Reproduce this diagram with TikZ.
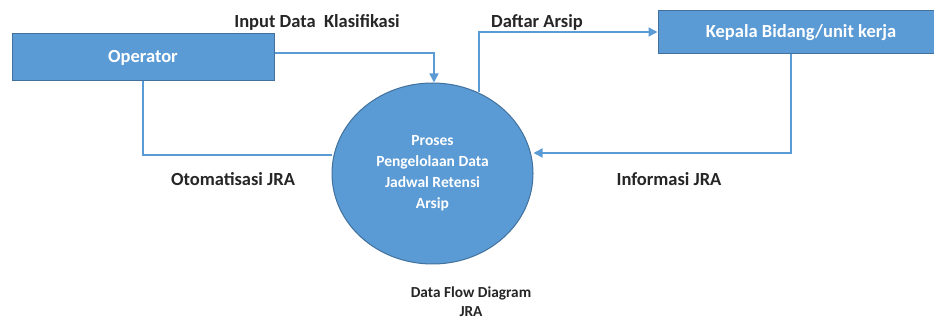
\documentclass[tikz,border=0pt]{standalone}
\usepackage{fontspec}
\setmainfont{Carlito}
\usetikzlibrary{shapes.geometric,arrows.meta}
\definecolor{fillblue}{HTML}{5B9BD5}
\definecolor{edgeblue}{HTML}{41719C}
\definecolor{lineblue}{HTML}{5B9BD5}
\tikzset{
  entity/.style={draw=edgeblue,line width=1pt,fill=fillblue,text=white,font=\bfseries\fontsize{18.5}{22}\selectfont,inner sep=0pt},
  proc/.style={ellipse,draw=edgeblue,line width=1pt,fill=fillblue,text=white,align=center,inner sep=0pt,font=\bfseries\fontsize{15.5}{21}\selectfont},
  flow/.style={draw=lineblue,line width=1.6pt},
  flowarrow/.style={flow,-{Triangle[length=9pt,width=9pt]}},
  lbl/.style={font=\bfseries\fontsize{18.5}{22}\selectfont,text=black!85,inner sep=0pt},
}
\begin{document}
\begin{tikzpicture}[x=1pt,y=-1pt]
\clip (0,0) rectangle (934,320);
\fill[white] (0,0) rectangle (934,320);
\node[entity,minimum width=262pt,minimum height=47pt] (op) at (143,57.5) {Operator};
\node[entity,minimum width=286pt,minimum height=43pt] (kb) at (801,32.5) {Kepala Bidang/unit kerja};
\node[proc,minimum width=201pt,minimum height=181pt] (pr) at (432.5,173.5) {Proses\\Pengelolaan Data\\Jadwal Retensi\\Arsip};
\node[align=center,font=\bfseries\fontsize{15.3}{19}\selectfont,text=black!85,inner sep=0pt] (cap) at (471,302) {Data Flow Diagram\\JRA};
% flows
\coordinate (c1) at (434,53);
\draw[flowarrow] (op.east |- c1) -- (c1) -- (pr.north -| c1);
\coordinate (c2) at (143,155);
\draw[flow] (op.south -| c2) -- (c2) -- (pr.west |- c2);
\coordinate (c3) at (479,32);
\draw[flowarrow] (479,92) -- (c3) -- (kb.west |- c3);
\coordinate (c4) at (791,153);
\draw[flowarrow] (kb.south -| c4) -- (c4) -- (pr.east |- c4);
% labels
\node[lbl] (l1) at (317,22) {Input Data\ \ Klasifikasi};
\node[lbl] (l2) at (233,179) {Otomatisasi JRA};
\node[lbl] (l3) at (537,22) {Daftar Arsip};
\node[lbl] (l4) at (669,179) {Informasi JRA};
\end{tikzpicture}
\end{document}
